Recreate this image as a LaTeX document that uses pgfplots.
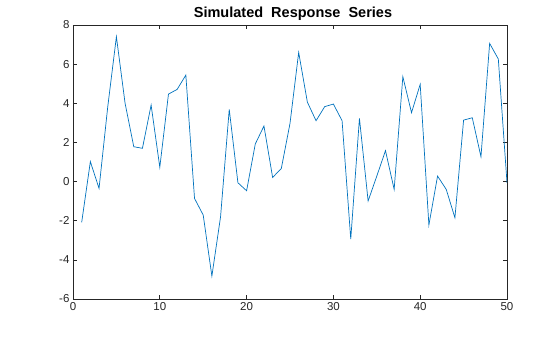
\documentclass[border=0pt]{standalone}
\usepackage{pgfplots}
\pgfplotsset{compat=1.18}
\usepackage{fontspec}
\setmainfont{Liberation Sans}
\definecolor{mblue}{RGB}{0,114,189}
\definecolor{axgray}{RGB}{38,38,38}
\begin{document}
\begin{tikzpicture}
\useasboundingbox (-73pt,-38pt) rectangle (487pt,299pt);
\begin{axis}[
  at={(0pt,0pt)}, anchor=south west,
  scale only axis,
  width=434pt, height=274pt,
  xmin=0, xmax=50, ymin=-6, ymax=8,
  xtick={0,10,...,50}, ytick={-6,-4,...,8},
  tick align=inside,
  major tick length=4pt,
  axis line style={axgray, line width=0.6pt},
  tick style={axgray, line width=0.6pt},
  every tick label/.append style={font=\fontsize{11.5}{13}\selectfont, text=axgray},
  /pgf/number format/assume math mode=true,
  title={\textbf{Simulated\ \ Response\ \ Series}},
  title style={font=\fontsize{14.5}{16}\selectfont, text=black, anchor=base, at={(0.5,1)}, yshift=2pt, xshift=3pt},
]
\addplot[mblue, line width=0.7pt, mark=none] coordinates {
(1,-2.08) (2,1.02) (3,-0.35) (4,3.81) (5,7.40) (6,4.00) (7,1.78) (8,1.70) (9,3.91) (10,0.73)
(11,4.47) (12,4.71) (13,5.44) (14,-0.86) (15,-1.71) (16,-4.83) (17,-1.80) (18,3.69) (19,-0.06) (20,-0.47)
(21,1.92) (22,2.84) (23,0.21) (24,0.67) (25,2.97) (26,6.60) (27,4.06) (28,3.11) (29,3.83) (30,3.96)
(31,3.11) (32,-2.94) (33,3.23) (34,-0.99) (35,0.28) (36,1.58) (37,-0.40) (38,5.36) (39,3.52) (40,4.97)
(41,-2.22) (42,0.28) (43,-0.40) (44,-1.85) (45,3.14) (46,3.26) (47,1.27) (48,7.06) (49,6.26) (50,-0.06)
};
\end{axis}
\end{tikzpicture}
\end{document}
